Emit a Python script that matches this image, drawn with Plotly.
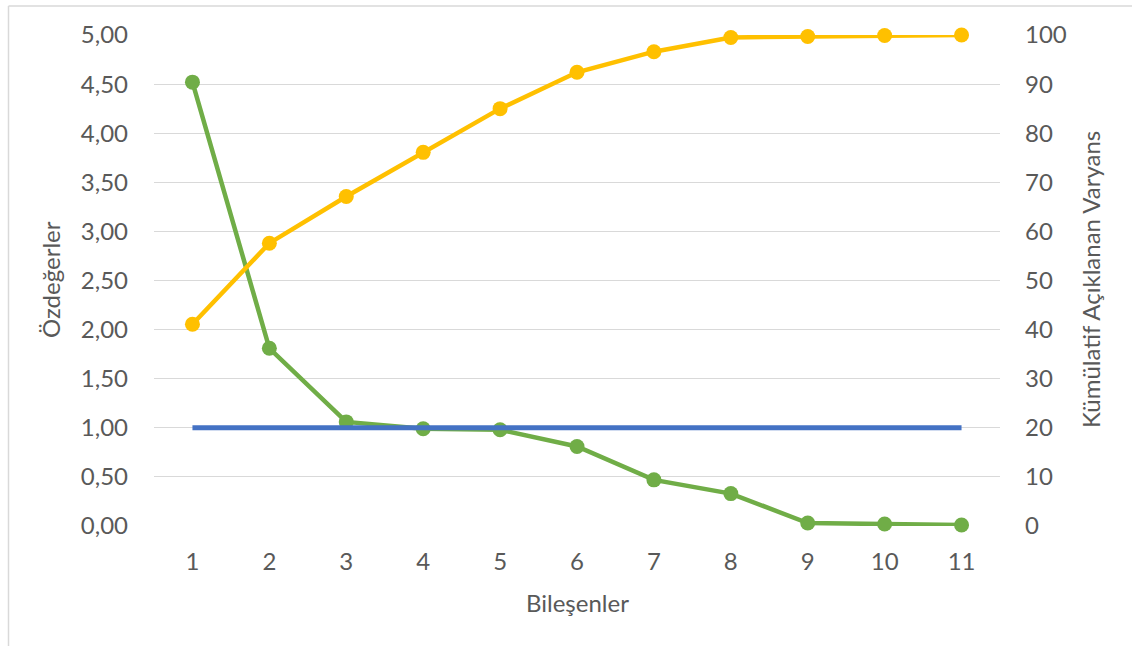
import plotly.graph_objects as go

components = [1, 2, 3, 4, 5, 6, 7, 8, 9, 10, 11]
eigenvalues = [4.52, 1.81, 1.06, 0.99, 0.98, 0.81, 0.47, 0.33, 0.03, 0.02, 0.01]
criterion = [1.00] * 11
cumulative_variance = [41.1, 57.6, 67.1, 76.1, 85.0, 92.4, 96.6, 99.5, 99.7, 99.9, 100.0]

y_ticks = [0, 0.5, 1, 1.5, 2, 2.5, 3, 3.5, 4, 4.5, 5]
y_tick_text = ["0,00", "0,50", "1,00", "1,50", "2,00", "2,50", "3,00", "3,50", "4,00", "4,50", "5,00"]
y2_ticks = [0, 10, 20, 30, 40, 50, 60, 70, 80, 90, 100]

GREEN = "#70AD47"
BLUE = "#4472C4"
YELLOW = "#FFC000"
TEXT = "#595959"
GRID = "#D9D9D9"
FONT = "Lato"
FS = 24

fig = go.Figure()
fig.add_trace(go.Scatter(
    x=components, y=eigenvalues, mode="lines+markers", name="Özdeğerler",
    line=dict(color=GREEN, width=4.5), marker=dict(size=15, color=GREEN),
    cliponaxis=False, yaxis="y"))
fig.add_trace(go.Scatter(
    x=components, y=criterion, mode="lines", name="Kriter",
    line=dict(color=BLUE, width=5), cliponaxis=False, yaxis="y"))
fig.add_trace(go.Scatter(
    x=components, y=cumulative_variance, mode="lines+markers", name="Kümülatif",
    line=dict(color=YELLOW, width=4.5), marker=dict(size=15, color=YELLOW),
    cliponaxis=False, yaxis="y2"))

L, R, T, B = 154, 132, 35, 120
W, H = 1132, 646
pw, ph = W - L - R, H - T - B

def px(xp):
    return (xp - L) / pw

def py(yp):
    return (H - B - yp) / ph

tickfont = dict(family=FONT, size=FS, color=TEXT)

fig.update_layout(
    width=W, height=H,
    margin=dict(l=L, r=R, t=T, b=B, pad=0),
    paper_bgcolor="white", plot_bgcolor="white",
    showlegend=False,
    font=dict(family=FONT, size=FS, color=TEXT),
    xaxis=dict(
        range=[0.5, 11.5], tickmode="array", tickvals=components,
        ticktext=[str(c) for c in components],
        showgrid=False, zeroline=False, showline=False, ticks="",
        ticklabelstandoff=19, tickfont=tickfont),
    yaxis=dict(
        range=[0, 5], tickmode="array", tickvals=y_ticks, ticktext=y_tick_text,
        showgrid=True, gridcolor=GRID, gridwidth=1.3, zeroline=False,
        showline=False, ticks="", ticklabelstandoff=25, tickfont=tickfont),
    yaxis2=dict(
        range=[0, 100], overlaying="y", side="right", tickmode="array",
        tickvals=y2_ticks, showgrid=False, zeroline=False, showline=False,
        ticks="", ticklabelstandoff=24, tickfont=tickfont),
    shapes=[
        dict(type="line", xref="paper", yref="paper",
             x0=px(8.5), x1=px(8.5), y0=py(6), y1=py(H + 5),
             line=dict(color=GRID, width=1.5)),
        dict(type="line", xref="paper", yref="paper",
             x0=px(8.5), x1=px(W + 5), y0=py(6), y1=py(6),
             line=dict(color=GRID, width=1.5)),
    ],
    annotations=[
        dict(text="Özdeğerler", xref="paper", yref="paper", x=px(50), y=py(280),
             showarrow=False, textangle=-90, xanchor="center", yanchor="middle",
             font=dict(family=FONT, size=FS, color=TEXT)),
        dict(text="Kümülatif Açıklanan Varyans", xref="paper", yref="paper",
             x=px(1090), y=py(280), showarrow=False, textangle=-90,
             xanchor="center", yanchor="middle",
             font=dict(family=FONT, size=FS, color=TEXT)),
        dict(text="Bileşenler", xref="paper", yref="paper", x=px(577), y=py(602),
             showarrow=False, xanchor="center", yanchor="middle",
             font=dict(family=FONT, size=FS, color=TEXT)),
    ],
)

fig.write_html("out.html", config={"displayModeBar": False},
               post_script="document.body.style.margin='0px';")
